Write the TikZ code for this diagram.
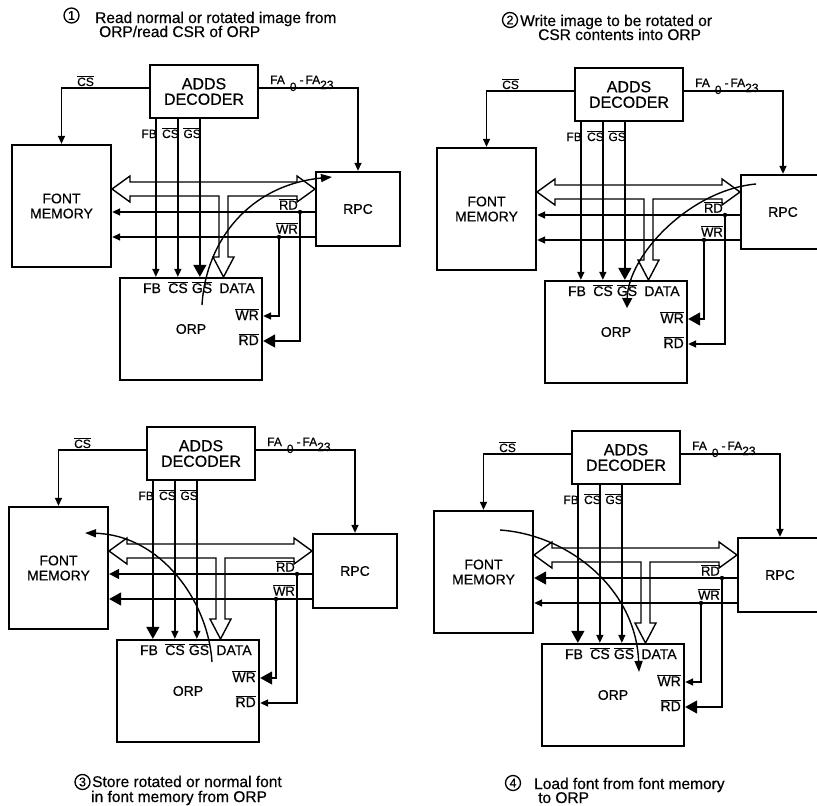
\documentclass[tikz,border=0pt]{standalone}
\usepackage{fontspec}
\setmainfont{Liberation Sans}[FakeBold=0.5]
\usetikzlibrary{arrows.meta,calc}
\newcommand\ovl[1]{$\overline{\mbox{#1}}$}
\newcommand\bxfont{\fontsize{14}{15}\selectfont}
\newcommand\dcfont{\fontsize{16}{15.5}\selectfont}
\tikzset{
  box/.style={draw, line width=2.3pt, align=center, inner sep=0pt, font=\bxfont},
  sig/.style={line width=1.4pt},
  bus/.style={line width=1.4pt, line join=miter},
  smallarr/.style={-{Triangle[length=8pt,width=7pt]}},
  medarr/.style={-{Triangle[length=10pt,width=10pt]}},
  bigarr/.style={-{Triangle[length=12pt,width=13pt]}},
  curvearr/.style={-{Triangle[length=11pt,width=8pt]}},
  fbarr/.style={smallarr}, csarr/.style={smallarr}, gsarr/.style={smallarr},
  fmrdarr/.style={smallarr}, fmwrarr/.style={smallarr},
  orpwrarr/.style={smallarr}, orprdarr/.style={smallarr},
  lbls/.style={inner sep=0pt, font=\fontsize{12}{12}\selectfont},
  lblm/.style={inner sep=0pt, font=\fontsize{13}{13}\selectfont},
  lblp/.style={inner sep=0pt, font=\fontsize{14}{14}\selectfont},
  ttl/.style={inner sep=0pt, anchor=base west, font=\fontsize{15.5}{16}\selectfont},
  num/.style={circle, draw, line width=1.3pt, inner sep=0pt, minimum size=15pt, font=\fontsize{12.5}{12.5}\selectfont},
}
\newcommand\orppanel[1]{%
  \node[box, font=\dcfont, minimum width=108pt, minimum height=53pt] (#1dec) at (204,91.5) {ADDS\\DECODER};
  \node[box, minimum width=99pt, minimum height=122pt] (#1fm) at (61.5,206) {FONT\\MEMORY};
  \node[box, minimum width=84pt, minimum height=74pt] (#1rpc) at (358,209) {RPC};
  \node[box, minimum width=142pt, minimum height=102pt] (#1orp) at (191,329) {ORP};
  % CS and FA lines
  \draw[sig,smallarr] ([yshift=3.5pt]#1dec.west) -| (#1fm.north);
  \draw[sig,smallarr] ([yshift=3.5pt]#1dec.east) -| (#1rpc.north);
  \node[lbls, anchor=base west] (#1csl) at (77,86) {\ovl{CS}};
  \node[lbls, anchor=base west] (#1fal) at (270,84) {FA\hspace{5pt}\raisebox{-7pt}{0}\hspace{3pt}-\hspace{2pt}FA\raisebox{-5pt}{23}};
  % bus
  \draw[bus] (112,189) -- (130,176) -- (130,182) -- (297,182) -- (297,176) -- (315,189)
    -- (297,202) -- (297,196) -- (228,196) -- (228,257) -- (234,257) -- (223.5,277)
    -- (213,257) -- (219,257) -- (219,196) -- (130,196) -- (130,202) -- cycle;
  % decoder select lines
  \draw[sig,fbarr] ([xshift=7pt]#1dec.south west) -- ([xshift=7pt]#1dec.south west |- #1orp.north);
  \draw[sig,csarr] ([xshift=29pt]#1dec.south west) -- ([xshift=29pt]#1dec.south west |- #1orp.north);
  \draw[sig,gsarr] ([xshift=51pt]#1dec.south west) -- ([xshift=51pt]#1dec.south west |- #1orp.north);
  \node[lbls, anchor=base east] (#1lfb) at (157,138) {FB};
  \node[lbls, anchor=base east] (#1lcs) at (179,138) {\ovl{CS}};
  \node[lbls, anchor=base east] (#1lgs) at (201,138) {\ovl{GS}};
  % RD / WR
  \coordinate (#1rdj) at (300,212);
  \coordinate (#1wrj) at (279,237);
  \draw[sig,fmrdarr] (#1rpc.west |- #1rdj) -- (#1fm.east |- #1rdj);
  \draw[sig,fmwrarr] (#1rpc.west |- #1wrj) -- (#1fm.east |- #1wrj);
  \fill (#1rdj) circle (2.2pt);
  \fill (#1wrj) circle (2.2pt);
  \draw[sig,orpwrarr] (#1wrj) |- (#1orp.east |- 0,316);
  \draw[sig,orprdarr] (#1rdj) |- (#1orp.east |- 0,341);
  \node[lblm, anchor=base east] (#1rdl) at (298,209.5) {\ovl{RD}};
  \node[lblm, anchor=base east] (#1wrl) at (298,233.5) {\ovl{WR}};
  % ORP port labels
  \node[lblp, anchor=base] (#1pfb) at (152,293) {FB};
  \node[lblp, anchor=base] (#1pcs) at (178,293) {\ovl{CS}};
  \node[lblp, anchor=base] (#1pgs) at (202,293) {\ovl{GS}};
  \node[lblp, anchor=base] (#1pda) at (237,293) {DATA};
  \node[lblp, anchor=base east] (#1pwr) at (259,320) {\ovl{WR}};
  \node[lblp, anchor=base east] (#1prd) at (259,345) {\ovl{RD}};
}
\begin{document}
\begin{tikzpicture}[x=1pt,y=-1pt]
\fill[white] (0,0) rectangle (817,806);
\useasboundingbox (0,0) rectangle (817,806);
\clip (0,0) rectangle (817,806);

% Panel 1
\begin{scope}[gsarr/.style={bigarr}, orprdarr/.style={bigarr}]
  \orppanel{a}
  \coordinate (acs) at (202,305);
  \coordinate (ace) at (332,177);
  \draw[sig,curvearr] (acs) .. controls (206,240) and (250,185) .. (ace);
\end{scope}
\node[num] (n1) at (71.5,15.5) {1};
\node[ttl] (t1a) at (95,23) {Read normal or rotated image from};
\node[ttl] (t1b) at (99,37) {ORP/read CSR of ORP};

% Panel 2
\begin{scope}[shift={(425,3)}, gsarr/.style={bigarr}, orpwrarr/.style={bigarr}]
  \orppanel{b}
  \coordinate (bcs) at (331,181);
  \coordinate (bce) at (202,305);
  \draw[sig,medarr] (bcs) .. controls (265,187) and (203,252) .. (bce);
\end{scope}
\node[num] (n2) at (510,20) {2};
\node[ttl] (t2a) at (520,26) {Write image to be rotated or};
\node[ttl] (t2b) at (538,40) {CSR contents into ORP};

% Panel 3
\begin{scope}[shift={(-3,362)}, fbarr/.style={bigarr}, orpwrarr/.style={bigarr}, fmwrarr/.style={bigarr}, fmrdarr/.style={medarr}]
  \orppanel{c}
  \coordinate (ccs) at (215,300);
  \coordinate (cce) at (88,171);
  \draw[sig,curvearr] (ccs) .. controls (211,238) and (163,173) .. (cce);
\end{scope}
\node[num] (n3) at (82.5,782) {3};
\node[ttl] (t3a) at (92,787) {Store rotated or normal font};
\node[ttl] (t3b) at (91,802) {in font memory from ORP};

% Panel 4
\begin{scope}[shift={(422,366)}, fbarr/.style={bigarr}, orprdarr/.style={bigarr}, fmrdarr/.style={bigarr}]
  \orppanel{d}
  \coordinate (dcs) at (78,164);
  \coordinate (dce) at (217,306);
  \draw[sig,curvearr] (dcs) .. controls (148,169) and (214,224) .. (dce);
\end{scope}
\node[num] (n4) at (513,783) {4};
\node[ttl] (t4a) at (534,789) {Load font from font memory};
\node[ttl] (t4b) at (538,803) {to ORP};
\end{tikzpicture}
\end{document}
